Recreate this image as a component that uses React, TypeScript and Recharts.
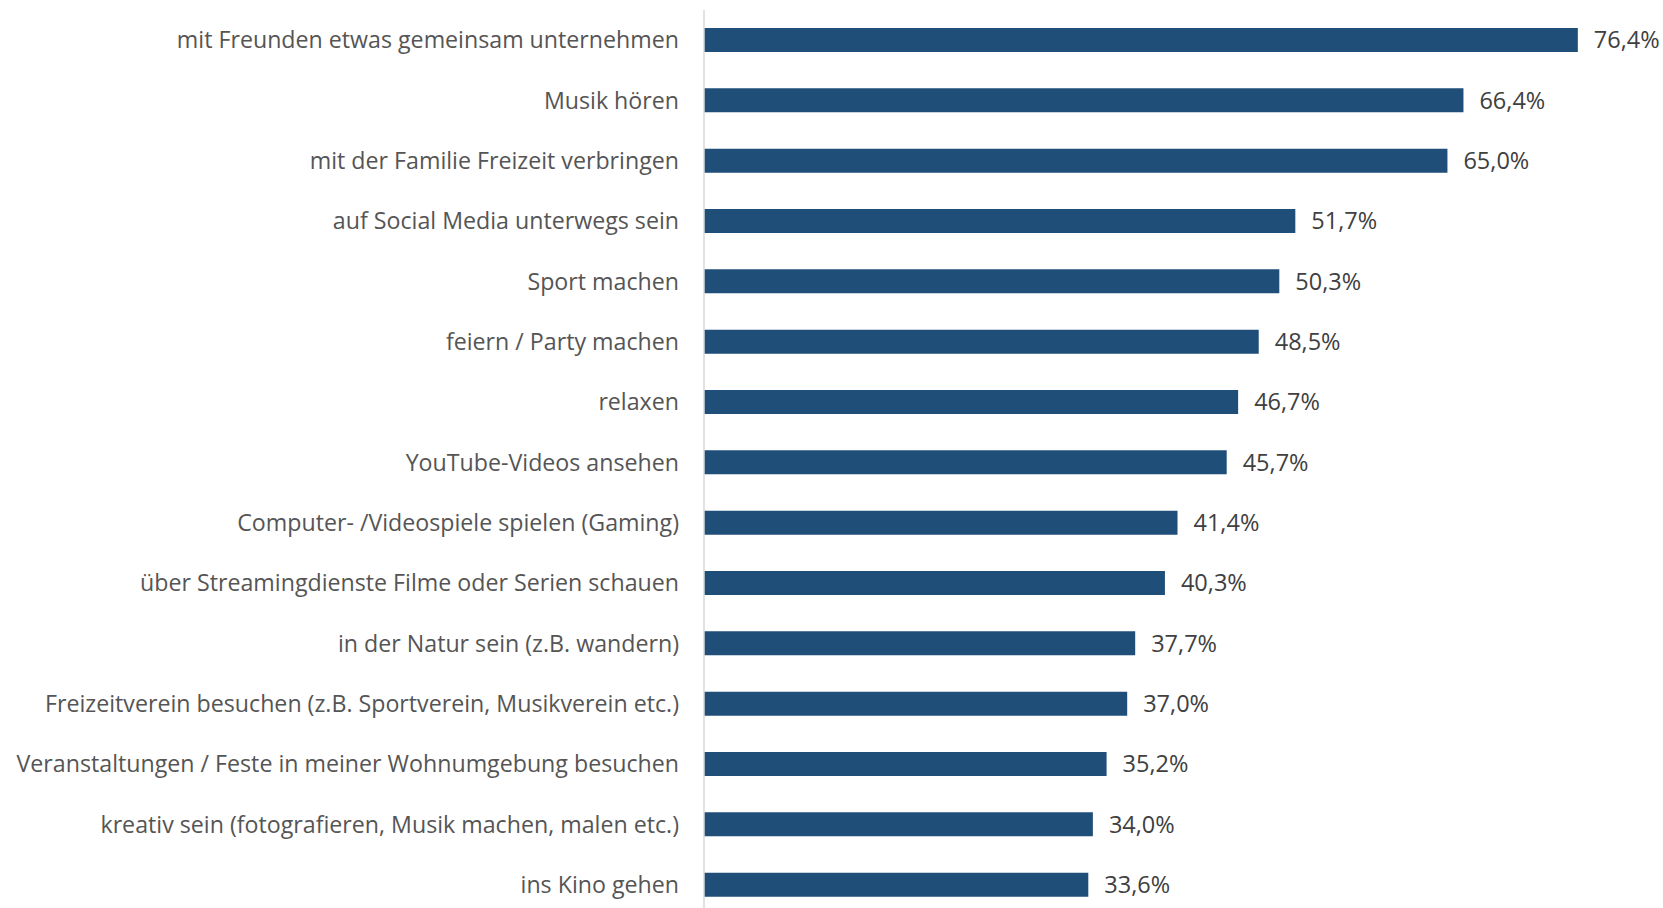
import React from "react";
import { BarChart, Bar, XAxis, YAxis, LabelList } from "recharts";

const categories = [
  "mit Freunden etwas gemeinsam unternehmen",
  "Musik hören",
  "mit der Familie Freizeit verbringen",
  "auf Social Media unterwegs sein",
  "Sport machen",
  "feiern / Party machen",
  "relaxen",
  "YouTube-Videos ansehen",
  "Computer- /Videospiele spielen (Gaming)",
  "über Streamingdienste Filme oder Serien schauen",
  "in der Natur sein (z.B. wandern)",
  "Freizeitverein besuchen (z.B. Sportverein, Musikverein etc.)",
  "Veranstaltungen / Feste in meiner Wohnumgebung besuchen",
  "kreativ sein (fotografieren, Musik machen, malen etc.)",
  "ins Kino gehen",
];

const shares = [76.4, 66.4, 65.0, 51.7, 50.3, 48.5, 46.7, 45.7, 41.4, 40.3, 37.7, 37.0, 35.2, 34.0, 33.6];

const data = categories.map((category, i) => ({ category, share: shares[i] }));

const FONT = "'Open Sans', sans-serif";

function formatPercent(value: number) {
  return `${value.toFixed(1).replace(".", ",")}%`;
}

export default function App() {
  return (
    <div
      style={{
        position: "absolute",
        top: 0,
        left: 0,
        width: 1663,
        height: 908,
        overflow: "hidden",
        background: "#ffffff",
      }}
    >
      <BarChart
        width={1663}
        height={915}
        data={data}
        layout="vertical"
        margin={{ top: 10, right: 44, bottom: 0, left: 0 }}
      >
        <XAxis type="number" domain={[0, 80]} hide />
        <YAxis
          type="category"
          dataKey="category"
          width={704}
          interval={0}
          axisLine={{ stroke: "#D9D9D9", strokeWidth: 1.5 }}
          tickLine={false}
          tickSize={0}
          tickMargin={25}
          tick={{ fontSize: 23.2, fill: "#555555", fontFamily: FONT }}
        />
        <Bar dataKey="share" fill="#1F4E79" barSize={24} isAnimationActive={false}>
          <LabelList
            dataKey="share"
            position="right"
            offset={16}
            formatter={(v: any) => formatPercent(Number(v))}
            style={{ fontSize: 23.5, fill: "#404040", fontFamily: FONT }}
          />
        </Bar>
      </BarChart>
    </div>
  );
}
